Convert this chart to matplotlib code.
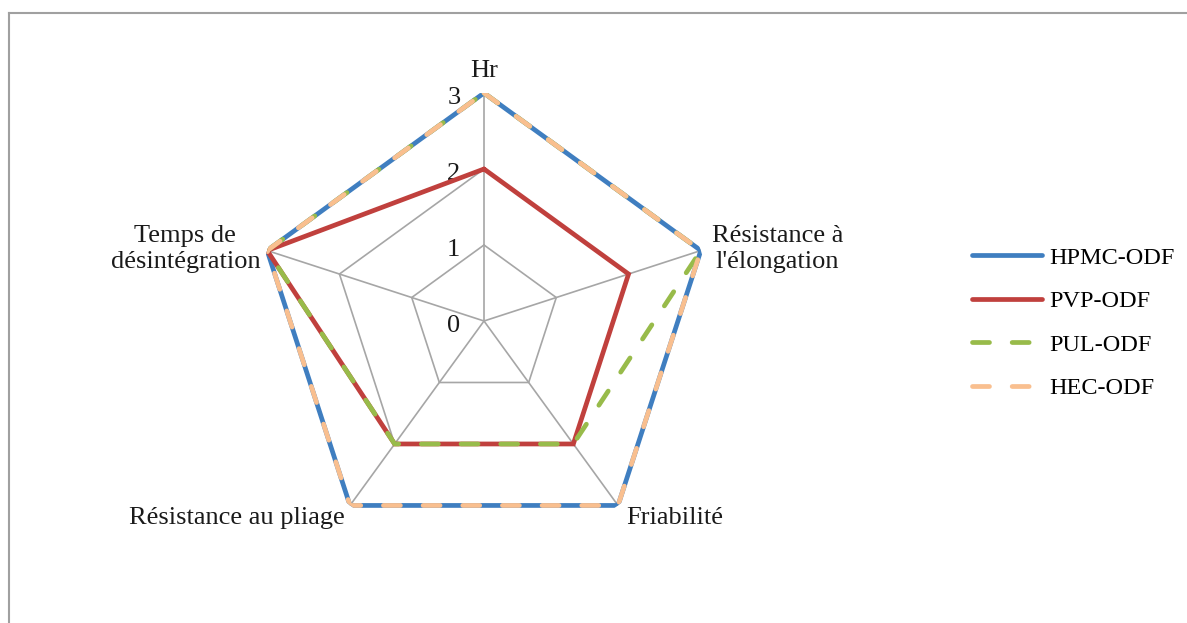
import numpy as np
import matplotlib
matplotlib.use("Agg")
import matplotlib.pyplot as plt
from matplotlib.lines import Line2D

categories = ["Hr", "Résistance à\nl'élongation", "Friabilité", "Résistance au pliage", "Temps de\ndésintégration"]
series_names = ["HPMC-ODF", "PVP-ODF", "PUL-ODF", "HEC-ODF"]
hpmc = [3, 3, 3, 3, 3]
pvp = [2, 2, 2, 2, 3]
pul = [3, 3, 2, 2, 3]
hec = [3, 3, 3, 3, 3]
rticks = [0, 1, 2, 3]

colors = ["#3F7EC0", "#C0403D", "#98BB4A", "#F9BF8F"]
styles = ["solid", "solid", "dashed", "dashed"]

plt.rcParams['font.family'] = ['Liberation Serif', 'DejaVu Serif']
FS = 19
LW = 3.4
DASH = (3.6, 4.8)

fig = plt.figure(figsize=(11.87, 6.23), dpi=100)
W, H = 1187, 623
cx, cy, R = 484, 321, 228
ax = fig.add_axes([(cx - R) / W, (H - cy - R) / H, 2 * R / W, 2 * R / H], projection='polar')
ax.set_theta_zero_location('N')
ax.set_theta_direction(-1)
ax.set_ylim(0, 3)
ax.grid(False)
ax.set_xticks([])
ax.set_yticks([])
ax.spines['polar'].set_visible(False)
ax.patch.set_alpha(0)

n = len(categories)
theta = np.arange(n) * 2 * np.pi / n
theta_c = np.append(theta, theta[0])

grid_col = "#A6A6A6"
for lv in rticks[1:]:
    ax.plot(theta_c, [lv] * (n + 1), color=grid_col, lw=1.2, zorder=1)
for t in theta:
    ax.plot([t, t], [0, rticks[-1]], color=grid_col, lw=1.2, zorder=1)

data = [hpmc, pvp, pul, hec]
for i, (vals, name) in enumerate(zip(data, series_names)):
    v = np.append(vals, vals[0])
    if styles[i] == "solid":
        ax.plot(theta_c, v, color=colors[i], lw=LW, solid_joinstyle='miter',
                solid_capstyle='round', zorder=3 + i)
    else:
        ln, = ax.plot(theta_c, v, color=colors[i], lw=LW, dash_capstyle='round',
                      dash_joinstyle='round', zorder=3 + i)
        ln.set_dashes(DASH)

# radial tick labels
for lv in rticks:
    ax.annotate(str(lv), xy=(0, lv), xytext=(-17, -3.5), textcoords='offset points',
                ha='right', va='center', fontsize=FS, color='#1a1a1a')

# category labels
offsets = [((0, 8), 'center', 'bottom', 'center'),
           ((8, 1), 'left', 'center', 'center'),
           ((6, -9), 'left', 'center', 'left'),
           ((-4, -9), 'right', 'center', 'right'),
           ((-5, 1), 'right', 'center', 'center')]
for t, lab, (off, ha, va, ma) in zip(theta, categories, offsets):
    ax.annotate(lab, xy=(t, 3), xytext=off, textcoords='offset points',
                ha=ha, va=va, multialignment=ma, fontsize=FS, color='#1a1a1a', linespacing=1.22)

leg_handles = []
for i in range(4):
    if styles[i] == "solid":
        h = Line2D([], [], color=colors[i], lw=LW, solid_capstyle='round')
    else:
        h = Line2D([], [], color=colors[i], lw=LW, dash_capstyle='round')
        h.set_dashes(DASH)
    leg_handles.append(h)
fig.legend(leg_handles, series_names, loc='center left', bbox_to_anchor=(972 / W, 1 - 323 / H),
           frameon=False, fontsize=17.5, handlelength=2.9, handletextpad=0.3, labelspacing=0.88,
           borderaxespad=0, borderpad=0)

# partial chart-area border
fig.add_artist(Line2D([9 / W, 9 / W], [0, 1 - 13 / H], transform=fig.transFigure, color="#A0A0A0", lw=1.5))
fig.add_artist(Line2D([9 / W, 1], [1 - 13 / H, 1 - 13 / H], transform=fig.transFigure, color="#A0A0A0", lw=1.5))

fig.savefig("out.png", dpi=100, facecolor='white')
